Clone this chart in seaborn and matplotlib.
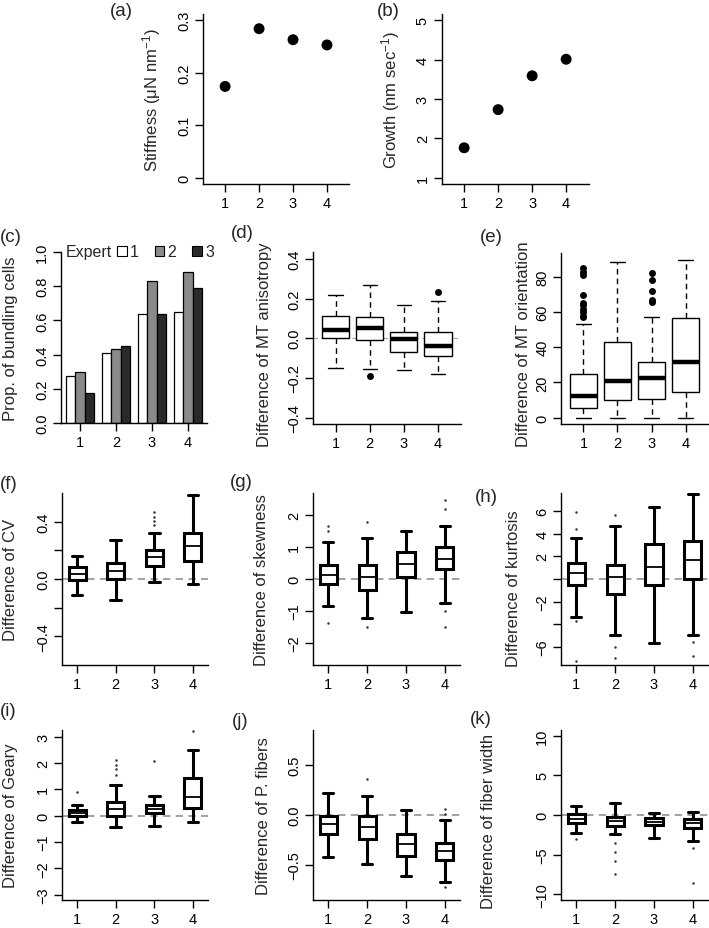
import pandas as pd
import matplotlib
matplotlib.use("Agg")
import matplotlib.pyplot as plt
import seaborn as sns
from matplotlib.patches import Patch

sns.set_style("ticks")
plt.rcParams["font.family"] = ["Liberation Sans", "DejaVu Sans"]
plt.rcParams["mathtext.fontset"] = "custom"
plt.rcParams["mathtext.rm"] = "Liberation Sans"
plt.rcParams["mathtext.it"] = "Liberation Sans:italic"

# ---- data ----
groups = [1, 2, 3, 4]
stiffness = [0.174, 0.284, 0.263, 0.253]
growth = [1.76, 2.73, 3.59, 4.01]

experts = ["1", "2", "3"]
bundling_e1 = [0.277, 0.41, 0.639, 0.648]
bundling_e2 = [0.297, 0.434, 0.828, 0.883]
bundling_e3 = [0.174, 0.449, 0.639, 0.789]

# box stats: (whisker low, q1, median, q3, whisker high) per group, plus outliers
aniso_box = [(-0.15, 0.0, 0.043, 0.114, 0.22), (-0.155, -0.007, 0.05, 0.109, 0.27),
             (-0.158, -0.07, -0.003, 0.034, 0.168), (-0.182, -0.09, -0.04, 0.03, 0.19)]
aniso_out = [[], [-0.188], [], [0.232]]

orient_box = [(0, 5.5, 12.5, 25, 53), (0, 9.9, 20.7, 43, 88.7),
              (0, 10.6, 22.3, 31.6, 57.5), (0, 14.8, 31.5, 56.7, 89.5)]
orient_out = [[57, 58, 60, 62, 64, 65, 70, 81, 83, 85], [], [65.5, 67, 72, 78, 82], []]

cv_box = [(-0.11, -0.005, 0.035, 0.081, 0.162), (-0.144, 0.0, 0.058, 0.111, 0.271),
          (-0.023, 0.093, 0.151, 0.204, 0.318), (-0.035, 0.123, 0.232, 0.318, 0.587)]
cv_out = [[], [], [0.376, 0.406, 0.436, 0.464], []]

skew_box = [(-0.85, -0.16, 0.13, 0.45, 1.17), (-1.22, -0.34, 0.05, 0.45, 1.3),
            (-1.04, 0.05, 0.48, 0.85, 1.51), (-0.74, 0.3, 0.64, 1.01, 1.65)]
skew_out = [[1.51, 1.65, -1.38], [1.78, -1.51], [], [2.2, 2.47, -1.0, -1.51]]

kurt_box = [(-3.35, -0.53, 0.5, 1.45, 3.64), (-4.97, -1.33, 0.2, 1.24, 4.73),
            (-5.71, -0.53, 1.04, 3.1, 6.42), (-4.97, 0.0, 1.72, 3.4, 7.51)]
kurt_out = [[5.9, 4.44, -3.7, -7.25], [5.68, -6.06, -7.0], [], [-5.62, -6.8]]

geary_box = [(-0.23, -0.03, 0.09, 0.21, 0.41), (-0.44, -0.03, 0.25, 0.5, 1.16),
             (-0.38, 0.09, 0.25, 0.4, 0.75), (-0.25, 0.29, 0.72, 1.42, 2.49)]
geary_out = [[0.88], [1.53, 1.76, 1.92, 2.1], [2.08], [3.21]]

pfib_box = [(-0.427, -0.19, -0.09, -0.01, 0.217), (-0.493, -0.24, -0.123, -0.01, 0.193),
            (-0.61, -0.417, -0.29, -0.19, 0.05), (-0.677, -0.45, -0.36, -0.283, -0.05)]
pfib_out = [[], [0.367], [], [0.057, 0.007, -0.727]]

fwidth_box = [(-2.32, -0.97, -0.5, 0.08, 1.18), (-2.45, -1.39, -0.72, -0.21, 1.56),
              (-2.87, -1.27, -0.84, -0.42, 0.3), (-3.29, -1.69, -0.97, -0.5, 0.42)]
fwidth_out = [[-3.08], [-3.5, -4.64, -5.78, -7.38], [], [-4.14, -8.56]]

W, H = 709, 929
fig = plt.figure(figsize=(W / 100, H / 100), dpi=100)


def px_axes(left, top, right, bottom):
    return fig.add_axes([left / W, 1 - bottom / H, (right - left) / W, (bottom - top) / H])


def style(ax, xlim, ylim, yticks, yticklabels, ylabel, label_x, tag, tag_xy, label_y=0.5):
    ax.set_xlim(*xlim)
    ax.set_ylim(*ylim)
    ax.set_xticks(groups)
    ax.set_xticklabels([str(g) for g in groups])
    ax.set_yticks(yticks)
    ax.set_yticklabels(yticklabels)
    ax.set_xlabel("")
    for s in ["top", "right"]:
        ax.spines[s].set_visible(False)
    for s in ["left", "bottom"]:
        ax.spines[s].set_linewidth(1.0)
        ax.spines[s].set_color("black")
    ax.tick_params(direction="out", length=5.5, width=1.0, labelsize=10.5, pad=3, colors="black")
    ax.tick_params(axis="y", labelrotation=90)
    for t in ax.get_yticklabels():
        t.set_va("center")
    ax.set_ylabel(ylabel, fontsize=12, va="center")
    bb = ax.get_position()
    ax.yaxis.set_label_coords((label_x / W - bb.x0) / bb.width, label_y)
    fig.text(tag_xy[0] / W, 1 - tag_xy[1] / H, tag, fontsize=13.5, ha="left", va="center")


def box_stats(five, outliers):
    return [dict(whislo=f[0], q1=f[1], med=f[2], q3=f[3], whishi=f[4], fliers=o)
            for f, o in zip(five, outliers)]


def thin_boxes(ax, five, outliers):
    ax.bxp(box_stats(five, outliers), positions=groups, widths=0.8, capwidths=0.42,
           patch_artist=True, manage_ticks=False,
           boxprops=dict(facecolor="white", edgecolor="black", linewidth=1.0),
           whiskerprops=dict(color="black", linewidth=1.0, linestyle=(0, (4, 3))),
           capprops=dict(color="black", linewidth=1.0),
           medianprops=dict(color="black", linewidth=3.2, solid_capstyle="butt"),
           flierprops=dict(marker="o", markerfacecolor="black", markeredgewidth=0,
                           markersize=5))


def bold_boxes(ax, five, outliers):
    ax.axhline(0, color="#9a9a9a", lw=1.3, ls=(0, (4, 3)), zorder=0.5)
    ax.bxp(box_stats(five, outliers), positions=groups, widths=0.44, capwidths=0.27,
           patch_artist=True, manage_ticks=False,
           boxprops=dict(facecolor="white", edgecolor="black", linewidth=2.2),
           whiskerprops=dict(color="black", linewidth=2.2, linestyle="-"),
           capprops=dict(color="black", linewidth=2.2),
           medianprops=dict(color="black", linewidth=1.3),
           flierprops=dict(marker="o", markerfacecolor="#333333", markeredgewidth=0,
                           markersize=1.8))


# (a) stiffness
ax = px_axes(202.7, 15, 349.4, 185)
sns.scatterplot(x=groups, y=stiffness, ax=ax, color="black", s=62, edgecolor="none")
style(ax, (0.34, 4.66), (-0.012, 0.312), [0, 0.1, 0.2, 0.3], ["0", "0.1", "0.2", "0.3"],
      r"Stiffness (μN nm$^{-1}$)", 152, "(a)", (110, 12))

# (b) growth
ax = px_axes(441.7, 15, 588.6, 185)
sns.scatterplot(x=groups, y=growth, ax=ax, color="black", s=62, edgecolor="none")
style(ax, (0.34, 4.66), (0.84, 5.16), [1, 2, 3, 4, 5], ["1", "2", "3", "4", "5"],
      r"Growth (nm sec$^{-1}$)", 391, "(b)", (377, 12))

# (c) bundling bars
bund = pd.DataFrame({
    "group": groups * 3,
    "expert": [e for e in experts for _ in groups],
    "prop": bundling_e1 + bundling_e2 + bundling_e3,
})
bar_colors = ["white", "#8a8a8a", "#2a2a2a"]
ax = px_axes(61, 253, 207, 424)
sns.barplot(data=bund, x="group", y="prop", hue="expert", palette=bar_colors,
            native_scale=True, width=0.78, gap=0, edgecolor="black", linewidth=0.9,
            legend=False, ax=ax)
style(ax, (0.47, 4.53), (0, 1.0), [0, 0.2, 0.4, 0.6, 0.8, 1.0],
      ["0.0", "0.2", "0.4", "0.6", "0.8", "1.0"],
      "Prop. of bundling cells", 11, "(c)", (0, 237))
ax.text(0.03, 1.0, "Expert", transform=ax.transAxes, fontsize=11.5, ha="left", va="center")
handles = [Patch(facecolor=c, edgecolor="black", linewidth=0.8) for c in bar_colors]
ax.legend(handles, experts, ncol=3, loc="center left", bbox_to_anchor=(0.385, 1.0),
          frameon=False, fontsize=11.5, handlelength=0.6, handleheight=0.6,
          handletextpad=0.2, columnspacing=1.0, borderpad=0, borderaxespad=0)

# (d) MT anisotropy
ax = px_axes(313, 253.5, 460.5, 425)
ax.axhline(0, color="#a0a0a0", lw=0.8, ls=(0, (4, 3)), zorder=0.5)
thin_boxes(ax, aniso_box, aniso_out)
style(ax, (0.34, 4.66), (-0.432, 0.432), [-0.4, -0.2, 0, 0.2, 0.4],
      ["\u22120.4", "\u22120.2", "0.0", "0.2", "0.4"],
      "Difference of MT anisotropy", 264, "(d)", (231, 233), 0.47)

# (e) MT orientation
ax = px_axes(561, 254, 708, 425)
thin_boxes(ax, orient_box, orient_out)
style(ax, (0.34, 4.66), (-3.6, 93.6), [0, 20, 40, 60, 80], ["0", "20", "40", "60", "80"],
      "Difference of MT orientation", 524, "(e)", (480, 237), 0.47)

# (f) CV
ax = px_axes(62, 494, 208, 666)
bold_boxes(ax, cv_box, cv_out)
style(ax, (0.61, 4.39), (-0.6, 0.6), [-0.4, -0.2, 0, 0.2, 0.4],
      ["\u22120.4", "", "0.0", "", "0.4"],
      "Difference of CV", 11, "(f)", (0, 485))

# (g) skewness
ax = px_axes(313, 494, 460, 666)
bold_boxes(ax, skew_box, skew_out)
style(ax, (0.61, 4.39), (-2.7, 2.7), [-2, -1, 0, 1, 2],
      ["\u22122", "\u22121", "0", "1", "2"],
      "Difference of skewness", 262, "(g)", (230, 483))

# (h) kurtosis
ax = px_axes(561, 494, 708, 666)
bold_boxes(ax, kurt_box, kurt_out)
style(ax, (0.61, 4.39), (-7.62, 7.62), [-6, -4, -2, 0, 2, 4, 6],
      ["\u22126", "", "\u22122", "", "2", "4", "6"],
      "Difference of kurtosis", 513, "(h)", (475, 498), 0.45)

# (i) Geary
ax = px_axes(62, 731, 208, 901)
bold_boxes(ax, geary_box, geary_out)
style(ax, (0.61, 4.39), (-3.2, 3.25), [-3, -2, -1, 0, 1, 2, 3],
      ["\u22123", "\u22122", "\u22121", "0", "1", "2", "3"],
      "Difference of Geary", 11, "(i)", (0, 712))

# (j) P. fibers
ax = px_axes(313, 731, 460, 901)
bold_boxes(ax, pfib_box, pfib_out)
style(ax, (0.61, 4.39), (-0.855, 0.855), [-0.5, 0, 0.5], ["\u22120.5", "0.0", "0.5"],
      "Difference of P. fibers", 263, "(j)", (232, 722))

# (k) fiber width
ax = px_axes(561, 731, 708, 901)
bold_boxes(ax, fwidth_box, fwidth_out)
style(ax, (0.61, 4.39), (-10.7, 10.7), [-10, -5, 0, 5, 10],
      ["\u221210", "\u22125", "0", "5", "10"],
      "Difference of fiber width", 488, "(k)", (470, 720), 0.47)

fig.savefig("out.png", dpi=100)
